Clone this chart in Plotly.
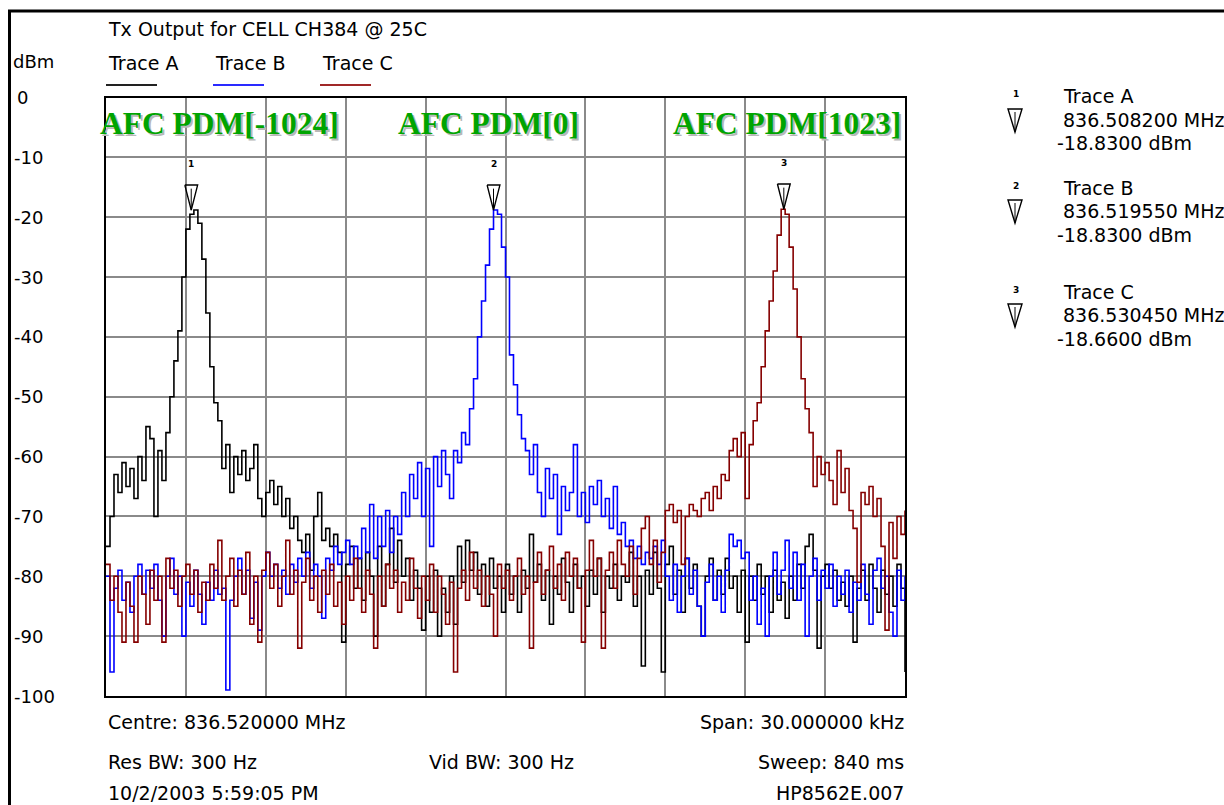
import numpy as np
import plotly.graph_objects as go

W, H = 1224, 805
UI = "DejaVu Sans"

# ---------------- data ----------------
center_mhz = 836.520000
span_khz = 30.0
n_points = 201
freq_khz = np.linspace(-span_khz / 2, span_khz / 2, n_points)

y_ticks = [0, -10, -20, -30, -40, -50, -60, -70, -80, -90, -100]

trace_names = ["Trace A", "Trace B", "Trace C"]
trace_colors = ["#000000", "#0000ff", "#850000"]
legend_colors = ["#222222", "#2a2aff", "#a02828"]

trace_a = [
    -75, -70, -63, -66, -61, -65, -62, -67, -60, -64,
    -55, -57, -70, -59, -64, -56, -50, -44, -39, -30,
    -22, -19.5, -18.8, -21, -27, -36, -45, -51, -54, -62,
    -58, -66, -60, -63, -59, -64, -62, -58, -67, -70,
    -66, -64, -68, -65, -70, -67, -72, -70, -74, -76,
    -73, -79, -70, -66, -74, -72, -75, -73, -76, -91,
    -78, -75, -82, -77, -84, -76, -80, -90, -75, -85,
    -78, -72, -81, -74, -80, -77, -84, -79, -82, -89,
    -80, -86, -79, -90, -82, -86, -80, -88, -75, -81,
    -74, -79, -76, -83, -78, -85, -77, -82, -80, -86,
    -78, -83, -80, -86, -79, -82, -73, -81, -78, -84,
    -79, -88, -80, -83, -77, -81, -86, -78, -82, -80,
    -85, -79, -83, -77, -86, -80, -82, -78, -84, -80,
    -81, -76, -85, -80, -95, -79, -83, -76, -82, -96,
    -78, -75, -83, -79, -86, -77, -82, -78, -85, -90,
    -80, -77, -84, -79, -83, -77, -82, -80, -86, -79,
    -91, -80, -84, -78, -83, -80, -86, -79, -84, -81,
    -87, -80, -84, -78, -82, -75, -73, -79, -92, -80,
    -78, -82, -79, -84, -81, -85, -80, -91, -82, -79,
    -84, -78, -82, -86, -79, -83, -80, -85, -78, -82,
    -96,
]

trace_b = [
    -80, -96, -82, -79, -84, -81, -86, -80, -78, -83,
    -79, -82, -78, -84, -90, -80, -77, -83, -80, -90,
    -81, -85, -79, -83, -88, -81, -84, -79, -83, -82,
    -99, -84, -80, -77, -83, -79, -87, -81, -89, -80,
    -76, -80, -78, -82, -79, -83, -78, -81, -77, -80,
    -76, -82, -78, -80, -87, -77, -79, -75, -78, -76,
    -74, -78, -75, -77, -72, -76, -68, -77, -70, -75,
    -69, -76, -70, -73, -66, -70, -63, -67, -61, -70,
    -62, -75, -60, -65, -59, -63, -67, -59, -61, -56,
    -58, -52, -47, -40, -34, -28, -22, -18.8, -19.5, -25,
    -30, -43, -48, -53, -57, -59, -63, -58, -66, -70,
    -62, -67, -63, -73, -65, -69, -66, -58, -70, -66,
    -71, -65, -68, -64, -70, -67, -72, -65, -73, -71,
    -75, -74, -77, -75, -78, -76, -77, -75, -78, -74,
    -80, -84, -78, -86, -80, -77, -83, -79, -85, -90,
    -81, -78, -84, -80, -86, -79, -73, -75, -74, -77,
    -76, -84, -80, -88, -82, -90, -80, -76, -83, -79,
    -74, -82, -76, -84, -78, -90, -80, -77, -84, -79,
    -82, -78, -85, -80, -83, -79, -86, -81, -84, -78,
    -83, -88, -79, -77, -82, -80, -86, -90, -79, -84,
    -80,
]

trace_c = [
    -78, -84, -80, -86, -91, -81, -85, -91, -80, -83,
    -88, -79, -84, -80, -91, -77, -82, -79, -85, -80,
    -78, -83, -79, -86, -81, -84, -78, -82, -74, -84,
    -80, -77, -85, -79, -83, -76, -88, -80, -91, -79,
    -76, -82, -78, -85, -80, -74, -83, -79, -92, -81,
    -77, -84, -80, -86, -79, -83, -78, -85, -81, -88,
    -80, -84, -77, -82, -86, -79, -83, -92, -80, -85,
    -78, -82, -79, -86, -81, -84, -77, -82, -87, -80,
    -84, -78, -86, -80, -83, -88, -81, -96, -82, -79,
    -84, -76, -82, -79, -85, -80, -83, -90, -78, -82,
    -79, -84, -80, -77, -83, -80, -92, -81, -76, -83,
    -79, -75, -82, -78, -84, -76, -80, -77, -82, -91,
    -79, -74, -80, -77, -92, -79, -76, -82, -74, -78,
    -80, -75, -83, -77, -72, -70, -78, -74, -81, -76,
    -69, -68, -71, -69, -78, -70, -68, -69, -70, -67,
    -66, -69, -65, -67, -63, -64, -59, -57, -60, -56,
    -67, -58, -54, -51, -45, -39, -34, -29, -23, -18.66,
    -19.5, -25, -32, -40, -47, -52, -56, -65, -60, -63,
    -61, -64, -68, -59, -66, -62, -69, -72, -81, -66,
    -68, -65, -70, -67, -75, -89, -71, -77, -70, -73,
    -69,
]

marker_freq_mhz = [836.508200, 836.519550, 836.530450]
marker_level_dbm = [-18.83, -18.83, -18.66]
afc_labels = ["AFC PDM[-1024]", "AFC PDM[0]", "AFC PDM[1023]"]

title_text = "Tx Output for CELL CH384 @ 25C"
res_bw, vid_bw, sweep_ms = "300 Hz", "300 Hz", "840 ms"
timestamp = "10/2/2003 5:59:05 PM"
file_name = "HP8562E.007"

# ---------------- geometry helpers ----------------
PL, PR, PT, PB = 106, 905, 97.5, 696


def X(px):
    return px / W


def Y(py):
    return 1 - py / H


def ann(text, px, py, anchor="left", size=19, color="black", family=UI, **kw):
    return dict(text=text, x=X(px), y=Y(py), xref="paper", yref="paper",
                xanchor=anchor, yanchor="middle", showarrow=False,
                font=dict(family=family, size=size, color=color), **kw)


fig = go.Figure()

for name, vals, col in zip(trace_names, [trace_a, trace_b, trace_c], trace_colors):
    fig.add_trace(go.Scatter(x=freq_khz, y=vals, mode="lines", name=name,
                             line=dict(color=col, width=1.6, shape="hv"),
                             showlegend=False, hoverinfo="skip"))

# peak markers on the plot
annotations = []
for k, (f, lv) in enumerate(zip(marker_freq_mhz, marker_level_dbm)):
    fk = (f - center_mhz) * 1000.0
    top = lv + 4.2
    fig.add_trace(go.Scatter(x=[fk - 0.24, fk + 0.24, fk, fk - 0.24],
                             y=[top, top, lv, top], mode="lines",
                             line=dict(color="black", width=1.4),
                             showlegend=False, hoverinfo="skip"))
    fig.add_trace(go.Scatter(x=[fk, fk], y=[top - 0.6, lv], mode="lines",
                             line=dict(color="black", width=1),
                             showlegend=False, hoverinfo="skip"))
    annotations.append(dict(text="<b>" + str(k + 1) + "</b>", x=fk, y=lv + 7.8, xref="x", yref="y",
                            showarrow=False, font=dict(family=UI, size=9, color="black")))

fig.update_xaxes(range=[-span_khz / 2, span_khz / 2], dtick=3, tick0=0,
                 showgrid=True, gridcolor="#8a8a8a", gridwidth=2,
                 showticklabels=False, ticks="", zeroline=False,
                 showline=True, mirror=True, linecolor="black", linewidth=2,
                 domain=[X(PL), X(PR)])
fig.update_yaxes(range=[-100, 0], dtick=10, tick0=0,
                 showgrid=True, gridcolor="#8a8a8a", gridwidth=2,
                 showticklabels=False, ticks="", zeroline=False,
                 showline=True, mirror=True, linecolor="black", linewidth=2,
                 domain=[Y(PB), Y(PT)])

# y tick labels
for t in y_ticks:
    annotations.append(dict(text=str(t), x=X(12 if t != 0 else 15), y=t, xref="paper", yref="y",
                            xanchor="left", yanchor="middle", showarrow=False,
                            font=dict(family=UI, size=18, color="black")))
annotations.append(ann("dBm", 11, 62, size=18))
annotations.append(ann(title_text, 106, 29))

# legend
leg_x = [106, 213, 320]
shapes = []
for name, lx, lc in zip(trace_names, leg_x, legend_colors):
    annotations.append(ann(name, lx, 63))
    shapes.append(dict(type="line", xref="paper", yref="paper",
                       x0=X(lx), x1=X(lx + 51), y0=Y(85), y1=Y(85),
                       line=dict(color=lc, width=2)))

# AFC labels
afc_x = [98, 396, 671]
for txt, ax in zip(afc_labels, afc_x):
    annotations.append(ann("<b>" + txt + "</b>", ax + 1.5, 125.5, size=31.5, color="#b8b8b8",
                           family="Liberation Serif"))
    annotations.append(ann("<b>" + txt + "</b>", ax, 124, size=31.5, color="#00a400",
                           family="Liberation Serif"))

# marker readout panel
block_y = [(96, 120, 143), (188, 211, 235), (292, 315, 339)]
for k, (name, f, lv) in enumerate(zip(trace_names, marker_freq_mhz, marker_level_dbm)):
    y1, y2, y3 = block_y[k]
    annotations.append(ann("<b>" + str(k + 1) + "</b>", 1016, y1 - 2, anchor="center", size=9))
    annotations.append(ann(name, 1061, y1))
    annotations.append(ann(f"{f:.6f} MHz", 1061, y2))
    annotations.append(ann(f"{lv:.4f} dBm", 1055, y3))
    # triangle icon
    tx, ty = 1015, y2
    path = "M {} {} L {} {} L {} {} Z".format(X(tx - 7), Y(ty - 11), X(tx + 7), Y(ty - 11), X(tx), Y(ty + 12))
    shapes.append(dict(type="path", xref="paper", yref="paper", path=path,
                       line=dict(color="black", width=1.4)))
    shapes.append(dict(type="line", xref="paper", yref="paper",
                       x0=X(tx), x1=X(tx), y0=Y(ty - 8), y1=Y(ty + 12),
                       line=dict(color="black", width=1)))

# bottom info
annotations.append(ann(f"Centre: {center_mhz:.6f} MHz", 106, 722))
annotations.append(ann(f"Span: {span_khz:.6f} kHz", 906, 722, anchor="right"))
annotations.append(ann(f"Res BW: {res_bw}", 106, 762))
annotations.append(ann(f"Vid BW: {vid_bw}", 427, 762))
annotations.append(ann(f"Sweep: {sweep_ms}", 906, 762, anchor="right"))
annotations.append(ann(timestamp, 106, 793))
annotations.append(ann(file_name, 906, 793, anchor="right"))

# window border
shapes.append(dict(type="line", xref="paper", yref="paper", x0=X(8), x1=1.0,
                   y0=Y(11), y1=Y(11), line=dict(color="black", width=3)))
shapes.append(dict(type="line", xref="paper", yref="paper", x0=X(9.5), x1=X(9.5),
                   y0=Y(10), y1=0, line=dict(color="black", width=3)))

fig.update_layout(width=W, height=H, margin=dict(l=0, r=0, t=0, b=0),
                  paper_bgcolor="white", plot_bgcolor="white",
                  annotations=annotations, shapes=shapes, showlegend=False)

fig.write_html("out.html")
